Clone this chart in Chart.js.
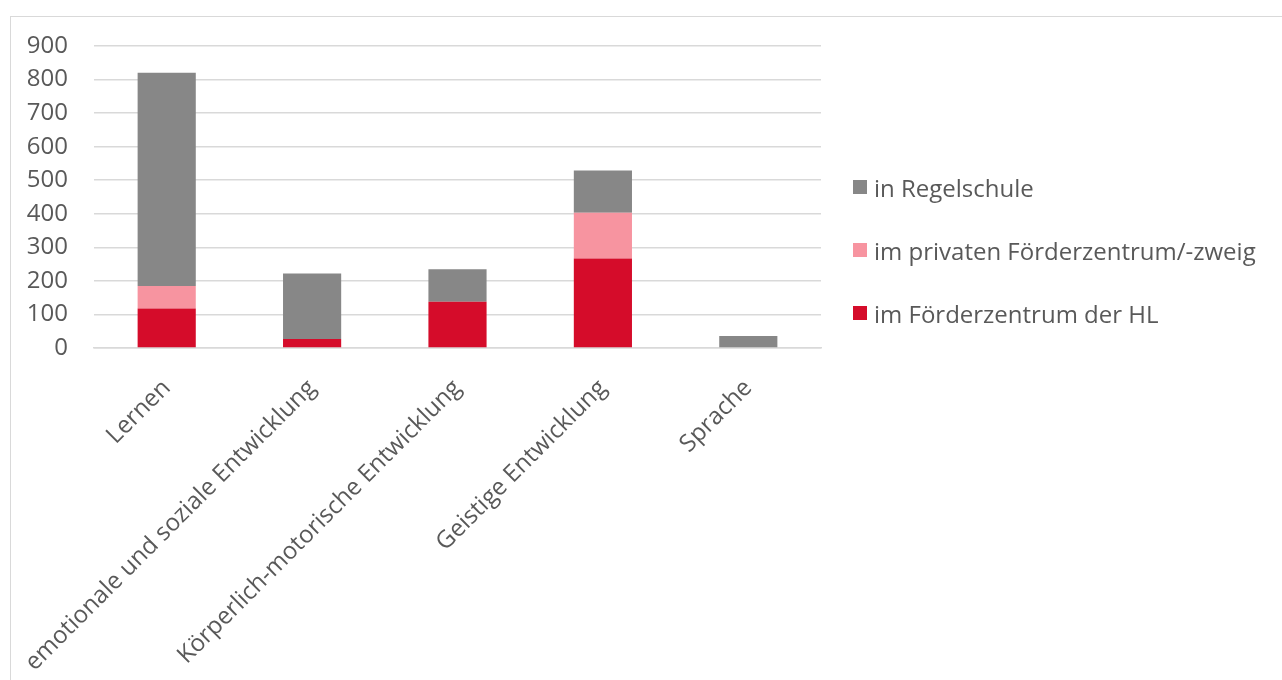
<!DOCTYPE html>
<html lang="de">
<head>
<meta charset="utf-8">
<title>Förderschwerpunkte</title>
<script src="https://cdn.jsdelivr.net/npm/chart.js@4/dist/chart.umd.min.js"></script>
<style>
    body { margin: 0; background: #fff; font-family: "Open Sans", sans-serif; }
    .frame {
        position: absolute; left: 10px; top: 16px;
        width: 1300px; height: 700px;
        border: 1px solid #d9d9d9;
    }
    .chart-wrap { position: absolute; left: 0; top: 0; width: 1282px; height: 680px; }
    .legend { position: absolute; left: 853px; top: 170px; color: #595959; font-size: 24px; }
    .legend-item { display: flex; align-items: center; height: 34px; margin-bottom: 29px; white-space: nowrap; }
    .legend-box { width: 14px; height: 14px; margin-right: 7px; }
</style>
</head>
<body>
<div class="frame"></div>
<div class="chart-wrap"><canvas id="chart"></canvas></div>
<div class="legend" id="legend"></div>
<script>
// Categories (Förderschwerpunkte)
const categories = [
    'Lernen',
    'emotionale und soziale Entwicklung',
    'Körperlich-motorische Entwicklung',
    'Geistige Entwicklung',
    'Sprache'
];

// Series values
const foerderzentrumHL = [118, 27, 138, 267, 0];
const privatesFoerderzentrum = [67, 0, 0, 136, 0];
const regelschule = [635, 195, 97, 126, 36];

const seriesLabels = ['im Förderzentrum der HL', 'im privaten Förderzentrum/-zweig', 'in Regelschule'];
const seriesColors = ['#d50c2a', '#f794a0', '#878787'];

const yTicks = [0, 100, 200, 300, 400, 500, 600, 700, 800, 900];

const textColor = '#595959';
const gridColor = '#d9d9d9';

const datasets = [foerderzentrumHL, privatesFoerderzentrum, regelschule].map((values, i) => ({
    label: seriesLabels[i],
    data: values,
    backgroundColor: seriesColors[i],
    borderWidth: 0,
    barPercentage: 0.4,
    categoryPercentage: 1
}));

const ctx = document.getElementById('chart');
new Chart(ctx, {
    type: 'bar',
    data: { labels: categories, datasets: datasets },
    options: {
        responsive: true,
        maintainAspectRatio: false,
        animation: false,
        layout: {
            padding: { left: 0, right: 461, top: 46, bottom: 0 }
        },
        plugins: {
            legend: { display: false },
            tooltip: { enabled: false }
        },
        scales: {
            x: {
                stacked: true,
                grid: { display: false },
                border: { display: true, color: gridColor, width: 1.5 },
                ticks: {
                    color: textColor,
                    font: { family: 'Open Sans', size: 24 },
                    minRotation: 45,
                    maxRotation: 45,
                    padding: 18,
                    autoSkip: false
                },
                // fixed axis height so the plot ends where the reference does
                afterFit: (scale) => { scale.height = 332; }
            },
            y: {
                stacked: true,
                min: 0,
                max: 900,
                afterBuildTicks: (scale) => {
                    scale.ticks = yTicks.map(v => ({ value: v }));
                },
                grid: { color: gridColor, lineWidth: 1.5, drawTicks: false },
                border: { display: false },
                ticks: {
                    color: textColor,
                    font: { family: 'Open Sans', size: 24 },
                    padding: 26
                },
                afterFit: (scale) => { scale.width = 94; }
            }
        }
    }
});

// Legend, reversed like the stack
const legend = document.getElementById('legend');
legend.innerHTML = seriesLabels.map((label, i) => ({ label, color: seriesColors[i] }))
    .reverse()
    .map(item => `
        <div class="legend-item">
            <span class="legend-box" style="background:${item.color}"></span>${item.label}
        </div>
    `).join('');
</script>
</body>
</html>
